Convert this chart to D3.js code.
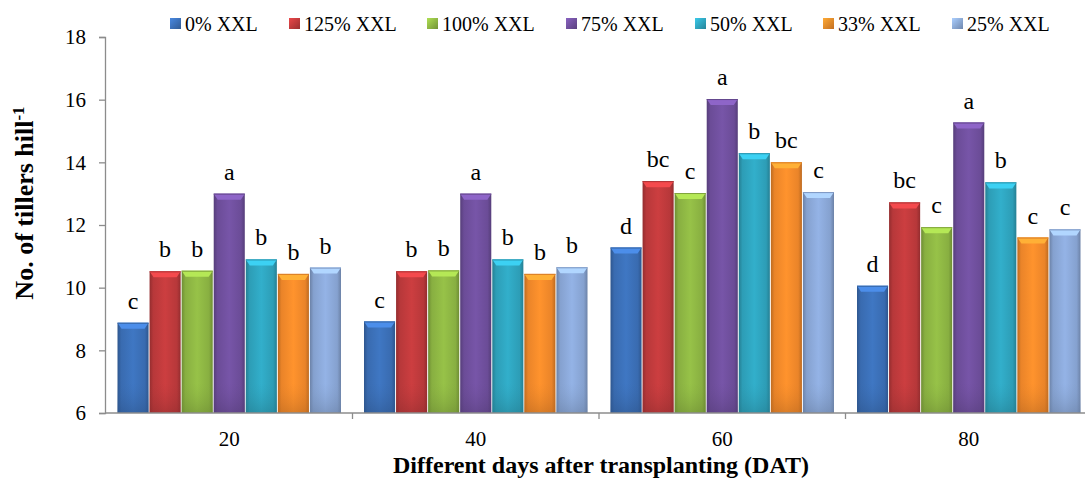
<!DOCTYPE html>
<html>
<head>
<meta charset="utf-8">
<script src="https://cdn.jsdelivr.net/npm/d3@7/dist/d3.min.js"></script>
<style>
  html, body { margin: 0; padding: 0; background: #fff; }
  svg { display: block; }
</style>
</head>
<body>
<svg id="chart" width="1085" height="479"></svg>
<script>
// Days after transplanting (categories)
const days = ["20", "40", "60", "80"];
// Treatments (series)
const treatments = ["0% XXL", "125% XXL", "100% XXL", "75% XXL", "50% XXL", "33% XXL", "25% XXL"];
const seriesColors = ["#3b6fb6", "#be3a3c", "#8db543", "#6f4f9c", "#2fa3bd", "#f2892a", "#8aa7d6"];

// Number of tillers per hill, one array per treatment (values at 20, 40, 60, 80 DAT)
const tillers0   = [8.88, 8.92, 11.28, 10.06];
const tillers125 = [10.52, 10.52, 13.40, 12.72];
const tillers100 = [10.54, 10.55, 13.02, 11.93];
const tillers75  = [13.00, 13.00, 16.02, 15.27];
const tillers50  = [10.90, 10.90, 14.29, 13.36];
const tillers33  = [10.44, 10.44, 14.00, 11.60];
const tillers25  = [10.64, 10.65, 13.05, 11.86];
const seriesValues = [tillers0, tillers125, tillers100, tillers75, tillers50, tillers33, tillers25];

// Mean separation letters, one array per treatment
const letters0   = ["c", "c", "d", "d"];
const letters125 = ["b", "b", "bc", "bc"];
const letters100 = ["b", "b", "c", "c"];
const letters75  = ["a", "a", "a", "a"];
const letters50  = ["b", "b", "b", "b"];
const letters33  = ["b", "b", "bc", "c"];
const letters25  = ["b", "b", "c", "c"];
const seriesLetters = [letters0, letters125, letters100, letters75, letters50, letters33, letters25];

const yTicks = [6, 8, 10, 12, 14, 16, 18];

const FONT = "Liberation Serif";
const svg = d3.select("#chart");

const plotLeft = 105, plotTop = 37, plotBottom = 413, plotRight = 1085;

const y = d3.scaleLinear().domain([6, 18]).range([plotBottom, plotTop]);
const x0 = d3.scaleBand().domain(days).range([106, 1092]).paddingInner(0).paddingOuter(0);
const x1 = d3.scaleBand().domain(d3.range(treatments.length))
  .range([11, x0.bandwidth() - 11]).padding(0);

// Gradients giving the bars a bevelled look
const defs = svg.append("defs");
seriesColors.forEach((c, i) => {
  const base = d3.color(c);
  const g = defs.append("linearGradient").attr("id", "bar-" + i)
    .attr("x1", "0").attr("x2", "1").attr("y1", "0").attr("y2", "0");
  g.append("stop").attr("offset", "0%").attr("stop-color", base.darker(0.7));
  g.append("stop").attr("offset", "12%").attr("stop-color", base.darker(0.1));
  g.append("stop").attr("offset", "50%").attr("stop-color", base.brighter(0.2));
  g.append("stop").attr("offset", "88%").attr("stop-color", base.darker(0.1));
  g.append("stop").attr("offset", "100%").attr("stop-color", base.darker(0.7));
  const v = defs.append("linearGradient").attr("id", "bot-" + i)
    .attr("x1", "0").attr("x2", "0").attr("y1", "0").attr("y2", "1");
  v.append("stop").attr("offset", "0%").attr("stop-color", base.darker(0.2)).attr("stop-opacity", 0);
  v.append("stop").attr("offset", "100%").attr("stop-color", base.darker(0.8)).attr("stop-opacity", 0.5);
  const lg = defs.append("linearGradient").attr("id", "leg-" + i)
    .attr("x1", "0").attr("x2", "1").attr("y1", "0").attr("y2", "1");
  lg.append("stop").attr("offset", "0%").attr("stop-color", base.brighter(0.6));
  lg.append("stop").attr("offset", "100%").attr("stop-color", base.darker(0.6));
});

// Bars
const groups = svg.append("g").selectAll("g")
  .data(days).join("g")
  .attr("transform", d => `translate(${x0(d)},0)`);

groups.each(function(day, di) {
  const g = d3.select(this);
  treatments.forEach((t, si) => {
    const v = seriesValues[si][di];
    const bx = x1(si), bw = x1.bandwidth();
    const top = y(v), h = plotBottom - top;
    const color = d3.color(seriesColors[si]);
    g.append("rect").attr("x", bx + 0.5).attr("y", top).attr("width", bw - 1).attr("height", h)
      .attr("fill", `url(#bar-${si})`);
    g.append("rect").attr("x", bx + 0.5).attr("y", plotBottom - Math.min(h, 30)).attr("width", bw - 1)
      .attr("height", Math.min(h, 30)).attr("fill", `url(#bot-${si})`);
    // top bevel
    const bev = 6;
    g.append("polygon")
      .attr("points", [[bx + 0.5, top], [bx + bw - 0.5, top], [bx + bw - 4.5, top + bev], [bx + 4.5, top + bev]].map(p => p.join(",")).join(" "))
      .attr("fill", color.brighter(0.7));
    g.append("line").attr("x1", bx + 0.5).attr("x2", bx + bw - 0.5).attr("y1", top + 0.5).attr("y2", top + 0.5)
      .attr("stroke", color.darker(0.3)).attr("stroke-width", 1);
    // letter
    g.append("text").attr("x", bx + bw / 2).attr("y", top - 14)
      .attr("text-anchor", "middle").attr("font-size", 24).attr("font-family", FONT)
      .text(seriesLetters[si][di]);
  });
});

// Y axis
const yAxis = d3.axisLeft(y).tickValues(yTicks).tickSize(6).tickPadding(13).tickFormat(d3.format("d"));
const gy = svg.append("g").attr("transform", `translate(${plotLeft},0)`).call(yAxis)
  .attr("font-family", FONT);
gy.select(".domain").attr("stroke", "#8c8c8c").attr("stroke-width", 1.3);
gy.selectAll(".tick line").attr("stroke", "#8c8c8c").attr("stroke-width", 1.3);
gy.selectAll(".tick text").attr("font-size", 21).attr("fill", "#000").attr("font-family", FONT);

// X axis
const gx = svg.append("g").attr("transform", `translate(0,${plotBottom})`);
gx.append("line").attr("x1", plotLeft).attr("x2", plotRight).attr("y1", 0).attr("y2", 0)
  .attr("stroke", "#8c8c8c").attr("stroke-width", 1.3);
gx.selectAll("line.sep").data(days.slice(1)).join("line").attr("class", "sep")
  .attr("x1", d => x0(d)).attr("x2", d => x0(d)).attr("y1", 0).attr("y2", 6)
  .attr("stroke", "#8c8c8c").attr("stroke-width", 1.3);
gx.selectAll("text.tl").data(days).join("text").attr("class", "tl")
  .attr("x", d => x0(d) + x0.bandwidth() / 2).attr("y", 33)
  .attr("text-anchor", "middle").attr("font-size", 21).attr("font-family", FONT).text(d => d);

// Axis titles
svg.append("text").attr("x", 601).attr("y", 473).attr("text-anchor", "middle")
  .attr("font-size", 24).attr("font-weight", "bold").attr("font-family", FONT)
  .text("Different days after transplanting (DAT)");

const yt = svg.append("text").attr("transform", "translate(33,203) rotate(-90)")
  .attr("text-anchor", "middle").attr("font-size", 26).attr("font-weight", "bold")
  .attr("font-family", FONT);
yt.append("tspan").text("No. of tillers hill");
yt.append("tspan").attr("dy", -9).attr("font-size", 17).text("-1");

// Legend
const legendX = [170, 289, 427, 566, 695, 823, 952];
const legend = svg.append("g");
treatments.forEach((t, i) => {
  const lx = legendX[i];
  legend.append("rect").attr("x", lx).attr("y", 18).attr("width", 11).attr("height", 11)
    .attr("fill", `url(#leg-${i})`);
  legend.append("text").attr("x", lx + 15).attr("y", 31).attr("font-size", 20)
    .attr("font-family", FONT).text(t);
});
</script>
</body>
</html>
